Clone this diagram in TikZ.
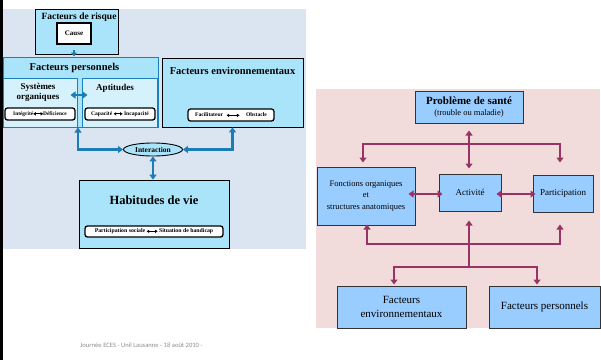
\documentclass[tikz,border=0pt]{standalone}
\usepackage{fontspec}
\setmainfont{Liberation Serif}
\newfontfamily\footfont{Carlito}
\usetikzlibrary{arrows.meta,shapes.geometric,calc}
\definecolor{bgL}{HTML}{DBE5F1}
\definecolor{boxL}{HTML}{AAE4FA}
\definecolor{subL}{HTML}{D5F1FC}
\definecolor{lineL}{HTML}{1E80B8}
\definecolor{arrL}{HTML}{1A7DB5}
\definecolor{bgR}{HTML}{F2DCDB}
\definecolor{boxR}{HTML}{99CCFF}
\definecolor{arrR}{HTML}{993366}
\newcommand{\myfs}[2]{\fontsize{#1}{#2}\selectfont}
\newcommand{\dbl}[1]{\tikz[baseline=-0.6ex]\draw[line width=0.9pt,{Triangle[width=3.2pt,length=2.6pt]}-{Triangle[width=3.2pt,length=2.6pt]}] (0pt,0pt) -- (#1,0pt);}
\begin{document}
\begin{tikzpicture}[x=1pt,y=-1pt,
  lbox/.style={draw=black, line width=0.8pt, fill=boxL, inner sep=0pt},
  pbox/.style={draw=lineL, line width=1pt, fill=boxL, inner sep=0pt},
  sbox/.style={draw=lineL, line width=1pt, fill=subL, inner sep=0pt},
  pill/.style={draw=black, line width=1.3pt, fill=white, rounded corners=2.5pt, inner sep=0pt, font=\bfseries\myfs{5.6}{6.5}},
  ltitle/.style={font=\bfseries\myfs{10.5}{12}, inner sep=0pt},
  larr/.style={draw=arrL, line width=2.4pt, {Triangle[width=7pt,length=5pt]}-{Triangle[width=7pt,length=5pt]}},
  rbox/.style={draw=black!80, line width=1pt, fill=boxR, inner sep=0pt, align=center},
  rarr/.style={draw=arrR, line width=2.3pt},
  rtip/.style={-{Triangle[width=7pt,length=5pt]}},
  rtips/.style={{Triangle[width=7pt,length=5pt]}-{Triangle[width=7pt,length=5pt]}}
]
\useasboundingbox (0,0) rectangle (601,360);
% left panel
\fill[bgL] (3,9) rectangle (306,249);
\fill[black] (0,0) rectangle (2.5,360);

\node[lbox, minimum width=83pt, minimum height=45pt] (risk) at (76.5,31.5) {};
\node[ltitle, font=\bfseries\myfs{9.5}{11}] (risktitle) at (79,17) {Facteurs de risque};
\node[draw=black, line width=1.2pt, fill=white, minimum width=34pt, minimum height=21pt, inner sep=0pt, font=\bfseries\myfs{7}{8}] (cause) at (74,33.5) {Cause};

\node[pbox, minimum width=155pt, minimum height=70pt] (pers) at (80.5,92) {};
\node[ltitle] (perstitle) at (74.5,68) {Facteurs personnels};
\node[sbox, minimum width=74pt, minimum height=49pt] (sys) at (40,102.5) {};
\node[sbox, minimum width=75pt, minimum height=49pt] (apt) at (119.5,102.5) {};
\node[font=\bfseries\myfs{9}{9.5}, align=center, inner sep=0pt] (systxt) at (38,92.5) {Systèmes\\organiques};
\node[font=\bfseries\myfs{9}{10}, inner sep=0pt] (apttxt) at (115,88) {Aptitudes};
\node[pill, minimum width=70pt, minimum height=12pt, font=\bfseries\myfs{5.4}{6.5}] (integ) at (40,114) {Intégrité\hspace{-0.5pt}\dbl{10pt}\hspace{-0.5pt}Déficience};
\node[pill, minimum width=70pt, minimum height=12pt] (capa) at (120,114) {Capacité\,\dbl{9pt}\,Incapacité};
\draw[larr] ($(sys.east)+(-7,-7.5)$) -- ($(apt.west)+(6,-7.5)$);

\node[lbox, minimum width=141pt, minimum height=69pt] (env) at (232.5,92.5) {};
\node[ltitle] (envtitle) at (232.5,70.5) {Facteurs environnementaux};
\node[pill, minimum width=86pt, minimum height=12pt] (facil) at (231,115) {Facilitateur\hspace{3pt}\dbl{13pt}\hspace{6pt}Obstacle};

\draw[arrL, line width=2pt, -{Triangle[width=6pt,length=4pt]}] ($(risk.south)+(-2.5,-4)$) -- ($(pers.north)+(-6.5,0)$);

\node[ellipse, draw=black, line width=0.9pt, fill=boxL, minimum width=59pt, minimum height=13pt, inner sep=0pt, font=\bfseries\myfs{7.5}{8}] (int) at (153,149.5) {Interaction};

\node[lbox, minimum width=150pt, minimum height=68pt] (hab) at (154,214) {};
\node[font=\bfseries\myfs{12.5}{14}, inner sep=0pt] (habtitle) at (154,200) {Habitudes de vie};
\node[pill, minimum width=138pt, minimum height=11pt, font=\bfseries\myfs{5.8}{6.5}] (partsoc) at (154,231.5) {Participation sociale\,\dbl{11pt}\,Situation de handicap};

\draw[larr] ($(pers.south)+(-2.5,0)$) |- (int.west);
\draw[larr] (env.south) |- (int.east);
\draw[larr] (int.south) -- (int.south |- hab.north);

\node[text=black!45, inner sep=0pt, font=\footfont\myfs{6.6}{7.5}] (foot) at (141.5,345) {Journée ECES - Unil Lausanne - 18 août 2010 -};

% right panel
\fill[bgR] (316,89) rectangle (600,328);
\node[rbox, minimum width=108pt, minimum height=32pt] (prob) at (469,107)
  {{\bfseries\myfs{11}{12.5}Problème de santé}\\[-1pt]{\myfs{8.5}{10}(trouble ou maladie)}};
\node[rbox, minimum width=98pt, minimum height=58pt, font=\myfs{8.5}{11.5}] (fonc) at (366,196)
  {Fonctions organiques\\et\\structures anatomiques};
\node[rbox, minimum width=62pt, minimum height=37pt, font=\myfs{9}{10}] (act) at (470,192.5) {Activité};
\node[rbox, minimum width=60pt, minimum height=37pt, font=\myfs{9}{10}] (part) at (563,193.5) {Participation};
\node[rbox, minimum width=129pt, minimum height=42pt, font=\myfs{11}{14}] (fenv) at (401.5,307) {Facteurs\\environnementaux};
\node[rbox, minimum width=111pt, minimum height=42pt, font=\myfs{11}{13}] (fpers) at (544.5,307) {Facteurs personnels};

\coordinate (tbar) at (469,144);
\coordinate (bbar) at (469,244);
\coordinate (bstem) at (469,267);

\draw[rarr, rtips] ($(prob.south)+(0,7)$) -- ($(act.north)+(-1,-5)$);
\draw[rarr, rtip] (tbar) -| ($(fonc.north)+(-3,-4)$);
\draw[rarr, rtip] (tbar) -| ($(part.north)+(-3,-12)$);
\draw[rarr, rtips] ($(fonc.east)+(-7,-2)$) -- ($(act.west)+(4,1.5)$);
\draw[rarr, rtips] ($(act.east)+(-5,1.5)$) -- ($(part.west)+(3,0.5)$);

\draw[rarr, rtip] (bbar) -- ($(act.south)+(-1,9)$);
\draw[rarr, rtip] (bbar) -| ($(fonc.south)+(1,-1)$);
\draw[rarr, rtip] (bbar) -| ($(part.south)+(-3,12)$);
\draw[rarr] (bbar) -- (bstem);
\draw[rarr, rtip] (bstem) -| ($(fenv.north)+(-7.5,-1)$);
\draw[rarr, rtip] (bstem) -| ($(fpers.north)+(-7.5,-1)$);
\end{tikzpicture}
\end{document}
